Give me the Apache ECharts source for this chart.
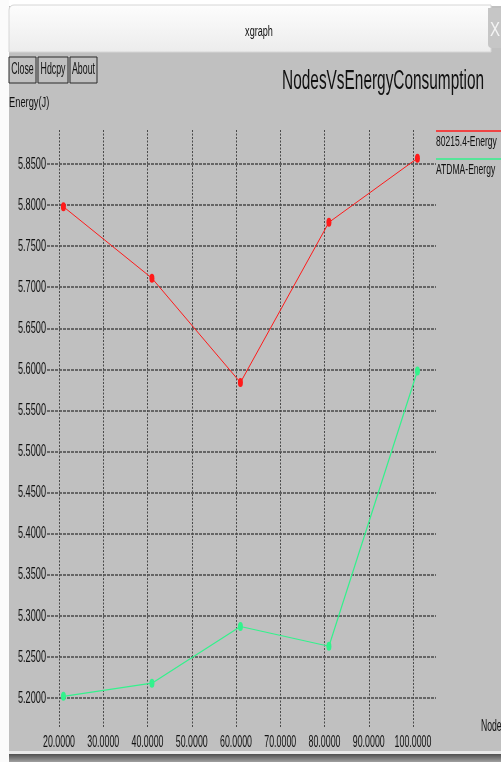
<!DOCTYPE html>
<html>
<head>
<meta charset="utf-8">
<script src="https://cdn.jsdelivr.net/npm/echarts@6/dist/echarts.min.js"></script>
<style>
  body { margin: 0; background: #fff; }
  #main { width: 501px; height: 762px; }
</style>
</head>
<body>
<div id="main"></div>
<script>
// data
var nodes = [21, 41, 61, 81, 101];
var energy80215 = [5.798, 5.711, 5.584, 5.779, 5.857];
var energyAtdma = [5.202, 5.218, 5.287, 5.263, 5.598];
var seriesNames = ["80215.4-Energy", "ATDMA-Energy"];
var seriesColors = ["#ff1a1a", "#33f28c"];
var xTicks = [20, 30, 40, 50, 60, 70, 80, 90, 100];
var yTicks = [5.20, 5.25, 5.30, 5.35, 5.40, 5.45, 5.50, 5.55, 5.60, 5.65, 5.70, 5.75, 5.80, 5.85];

// the xgraph window is squeezed sideways, so text gets scaleX
var font = "'Liberation Sans', Arial, sans-serif";
var squeeze = 0.54;

function pairs(xs, ys) {
  return xs.map(function (x, i) { return [x, ys[i]]; });
}

function label(x, y, text, size, align, sx) {
  return { type: "text", x: x, y: y, scaleX: sx || squeeze,
    style: { text: text, font: size + "px " + font, fill: "#111", align: align || "left", verticalAlign: "middle" } };
}

var myChart = echarts.init(document.getElementById("main"));

function button(x, w, text) {
  return [
    { type: "rect", shape: { x: x, y: 57, width: w, height: 26 },
      style: { fill: "#c0c0c0", stroke: "#2a2a2a", lineWidth: 1 } },
    label(x + w / 2, 70, text, 16, "center", 0.55)
  ];
}

var graphics = [
  // window frame
  { type: "rect", shape: { x: 0, y: 0, width: 501, height: 6 }, style: { fill: "#fff" } },
  { type: "rect", shape: { x: 0, y: 0, width: 9, height: 762 }, style: { fill: "#fbfbfb" } },
  { type: "rect", shape: { x: 9, y: 5, width: 482, height: 47, r: [5, 0, 0, 0] },
    style: { fill: new echarts.graphic.LinearGradient(0, 0, 0, 1, [
      { offset: 0, color: "#fdfdfd" }, { offset: 1, color: "#ececec" }]), stroke: "#d6d6d6", lineWidth: 1 } },
  { type: "rect", shape: { x: 488, y: 8, width: 14, height: 40, r: [0, 0, 0, 4] },
    style: { fill: "#c6c6c6" } },
  { type: "text", x: 490, y: 30, scaleX: 0.75,
    style: { text: "X", font: "20px " + font, fill: "#f4f4f4", verticalAlign: "middle" } },
  label(259, 32, "xgraph", 14, "center", 0.65),
  { type: "rect", shape: { x: 9, y: 751, width: 492, height: 3 }, style: { fill: "#e9e9e9" } },
  { type: "rect", shape: { x: 9, y: 754, width: 492, height: 8 },
    style: { fill: new echarts.graphic.LinearGradient(0, 0, 0, 1, [
      { offset: 0, color: "#505050" }, { offset: 1, color: "#a0a0a0" }]) } },
  // title and axis names
  label(484, 82, "NodesVsEnergyConsumption", 27, "right", 0.57),
  label(9, 103, "Energy(J)", 15, "left", 0.62),
  label(481, 727, "Nodes", 16, "left")
];
graphics = graphics.concat(button(9, 27, "Close"), button(38, 30, "Hdcpy"), button(70, 27, "About"));

// legend: coloured line above each name
seriesNames.forEach(function (name, i) {
  var y = 131 + i * 28;
  graphics.push({ type: "line", shape: { x1: 436, y1: y, x2: 501, y2: y },
    style: { stroke: seriesColors[i], lineWidth: 1.5 } });
  graphics.push(label(436, y + 11, name, 15, "left", 0.57));
});

var option = {
  backgroundColor: "#c0c0c0",
  animation: false,
  grid: [
    // horizontal grid lines and the data
    { left: 47, right: 65, top: 164, bottom: 64 },
    // vertical grid lines
    { left: 59, right: 88, top: 130, bottom: 34 }
  ],
  xAxis: [
    { type: "value", gridIndex: 0, min: 17.288, max: 105.198, show: false },
    { type: "value", gridIndex: 1, min: 20, max: 100, interval: 10,
      axisLine: { show: false }, axisTick: { show: false }, axisLabel: { show: false },
      splitLine: { show: true, lineStyle: { color: "#4a4a4a", width: 1, type: [2, 1.5] } } }
  ],
  yAxis: [
    { type: "value", gridIndex: 0, min: 5.2, max: 5.85, interval: 0.05,
      axisLine: { show: false }, axisTick: { show: false }, axisLabel: { show: false },
      splitLine: { show: true, lineStyle: { color: "#666", width: 2, type: [3, 1] } } },
    { type: "value", gridIndex: 1, show: false }
  ],
  series: [
    {
      name: seriesNames[0], type: "line", xAxisIndex: 0, yAxisIndex: 0,
      data: pairs(nodes, energy80215), clip: false,
      symbol: "circle", symbolSize: [5, 9],
      lineStyle: { color: seriesColors[0], width: 1 },
      itemStyle: { color: seriesColors[0] }
    },
    {
      name: seriesNames[1], type: "line", xAxisIndex: 0, yAxisIndex: 0,
      data: pairs(nodes, energyAtdma), clip: false,
      symbol: "circle", symbolSize: [5, 9],
      lineStyle: { color: seriesColors[1], width: 1.2 },
      itemStyle: { color: seriesColors[1] }
    }
  ]
};

myChart.setOption(option);

// tick labels placed through the axes' own scales, squeezed like the original
xTicks.forEach(function (v) {
  var px = myChart.convertToPixel({ xAxisIndex: 1 }, v);
  graphics.push(label(px, 742, v.toFixed(4), 17, "center", 0.52));
});
yTicks.forEach(function (v) {
  var py = myChart.convertToPixel({ yAxisIndex: 0 }, v);
  graphics.push(label(46, py, v.toFixed(4), 17, "right"));
});

myChart.setOption({ graphic: graphics });
</script>
</body>
</html>
